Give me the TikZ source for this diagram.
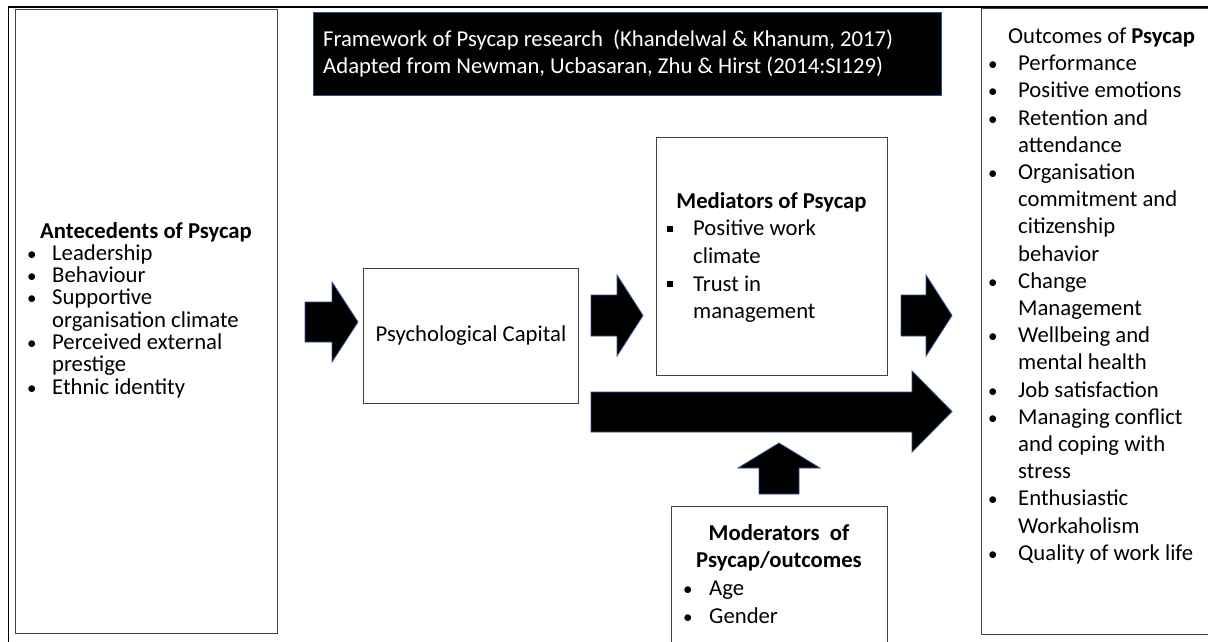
\documentclass[tikz,border=0pt]{standalone}
\usepackage{fontspec}
\setmainfont{Carlito}
\definecolor{arrowedge}{HTML}{2F528F}
\definecolor{boxedge}{HTML}{404040}
% bullet list helpers: marker in a fixed-width slot, continuation lines indented
\newcommand\pdot{{\fontsize{19}{19}\selectfont •}}
\newcommand\pbul[2]{\makebox[#1][l]{\pdot}#2}
\newcommand\psq[2]{\makebox[#1][l]{\raisebox{4pt}{\rule{6pt}{6pt}}}#2}
\newcommand\pcont[2]{\hspace*{#1}#2}
\begin{document}
\begin{tikzpicture}[x=1pt,y=-1pt,
  panel/.style={draw=boxedge, line width=1pt, fill=none, inner sep=0pt, anchor=north west},
  blockarrow/.style={fill=black, draw=arrowedge, line width=0.8pt, line join=miter},
  txt/.style={inner sep=0pt, align=left, font=\fontsize{22.7}{27.7}\selectfont},
  tighttxt/.style={inner sep=0pt, align=left, font=\fontsize{22.7}{22.3}\selectfont},
  looselist/.style={inner sep=0pt, align=left, font=\fontsize{22.7}{27.2}\selectfont},
]
\useasboundingbox (0,0) rectangle (1208,641);
\clip (0,0) rectangle (1208,641);

% outer frame (only its top and left edges fall inside the page)
\draw[line width=1.8pt, black] (8.5,660) -- (8.5,7) -- (1230,7);

% boxes
\node[panel, minimum width=262pt, minimum height=624pt] (ante) at (15,9) {};
\node[panel, fill=black, draw=arrowedge, minimum width=628pt, minimum height=83pt] (title) at (313,12) {};
\node[panel, minimum width=215pt, minimum height=135pt] (psy) at (363,268) {};
\node[panel, minimum width=231pt, minimum height=238pt] (med) at (656,137) {};
\node[panel, minimum width=216pt, minimum height=160pt] (mod) at (671,506) {};
\node[panel, minimum width=239pt, minimum height=626pt] (out) at (981,7.5) {};

% block arrows
\filldraw[blockarrow] (305,302) -- (332,302) -- (332,282) -- (358,322) -- (332,362) -- (332,342) -- (305,342) -- cycle;
\filldraw[blockarrow] (591,295) -- (617,295) -- (617,275) -- (643,315.5) -- (617,356) -- (617,336) -- (591,336) -- cycle;
\filldraw[blockarrow] (901,295) -- (926,295) -- (926,275) -- (952,315.5) -- (926,356) -- (926,336) -- (901,336) -- cycle;
\filldraw[blockarrow] (591,392) -- (912,392) -- (912,371) -- (952,411.5) -- (912,452) -- (912,432) -- (591,432) -- cycle;
\filldraw[blockarrow] (759,494) -- (759,468) -- (738,468) -- (779,443) -- (820,468) -- (799,468) -- (799,494) -- cycle;

% title text (base anchor = baseline of the last line)
\node[txt, text=white, anchor=base west] (titletext) at (323,73.7)
  {Framework of Psycap research\ \ (Khandelwal \& Khanum, 2017)\\Adapted from Newman, Ucbasaran, Zhu \& Hirst (2014:SI129)};

% psychological capital
\node[txt] (psytext) at (psy.center) {Psychological Capital};

% antecedents
\node[txt, anchor=base, font=\fontsize{22.7}{27.7}\selectfont\bfseries] (antehead) at (146,238) {Antecedents of Psycap};
\node[tighttxt, anchor=base west] (antelist) at (27,394.1)
  {\pbul{25pt}{Leadership}\\
   \pbul{25pt}{Behaviour}\\
   \pbul{25pt}{Supportive}\\
   \pcont{25pt}{organisation climate}\\
   \pbul{25pt}{Perceived external}\\
   \pcont{25pt}{prestige}\\
   \pbul{25pt}{Ethnic identity}};

% mediators
\node[txt, anchor=base, font=\fontsize{22.7}{27.7}\selectfont\bfseries] (medhead) at (771.5,208) {Mediators of Psycap};
\node[txt, anchor=base west] (medlist) at (667,318.8)
  {\psq{26pt}{Positive work}\\
   \pcont{26pt}{climate}\\
   \psq{26pt}{Trust in}\\
   \pcont{26pt}{management}};

% moderators
\node[txt, anchor=base, align=center, font=\fontsize{22.7}{27.7}\selectfont\bfseries] (modhead) at (779,567.7) {Moderators\ \ of\\Psycap/outcomes};
\node[txt, anchor=base west] (modlist) at (683,623.1)
  {\pbul{26pt}{Age}\\
   \pbul{26pt}{Gender}};

% outcomes
\node[txt, anchor=base west] (outhead) at (1008,43.5) {Outcomes of \textbf{Psycap}};
\node[looselist, anchor=base west] (outlist) at (988,560.3)
  {\pbul{30pt}{Performance}\\
   \pbul{30pt}{Positive emotions}\\
   \pbul{30pt}{Retention and}\\
   \pcont{30pt}{attendance}\\
   \pbul{30pt}{Organisation}\\
   \pcont{30pt}{commitment and}\\
   \pcont{30pt}{citizenship}\\
   \pcont{30pt}{behavior}\\
   \pbul{30pt}{Change}\\
   \pcont{30pt}{Management}\\
   \pbul{30pt}{Wellbeing and}\\
   \pcont{30pt}{mental health}\\
   \pbul{30pt}{Job satisfaction}\\
   \pbul{30pt}{Managing conflict}\\
   \pcont{30pt}{and coping with}\\
   \pcont{30pt}{stress}\\
   \pbul{30pt}{Enthusiastic}\\
   \pcont{30pt}{Workaholism}\\
   \pbul{30pt}{Quality of work life}};
\end{tikzpicture}
\end{document}
